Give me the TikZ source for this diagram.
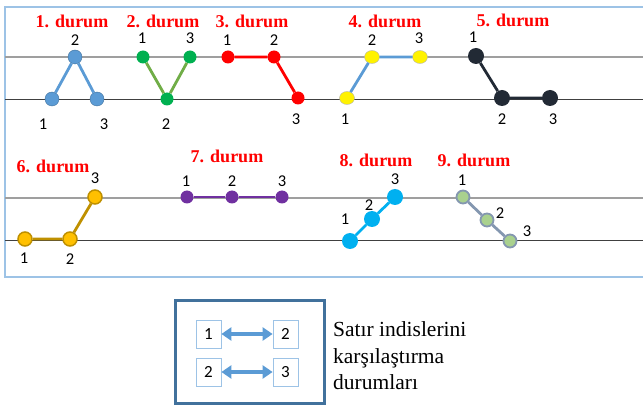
\documentclass[tikz,border=0pt]{standalone}
\usepackage{fontspec}
\setmainfont{Liberation Serif}
\newfontfamily\numfont{Carlito}
\usetikzlibrary{arrows.meta, shapes.geometric}
\definecolor{framblue}{RGB}{157,195,230}
\definecolor{legblue}{RGB}{65,113,156}
\definecolor{lineblue}{RGB}{91,155,213}
\definecolor{dgreen}{RGB}{0,176,80}
\definecolor{lgreen}{RGB}{112,173,71}
\definecolor{navy}{RGB}{34,42,53}
\definecolor{gold}{RGB}{255,192,0}
\definecolor{darkgold}{RGB}{191,144,0}
\definecolor{purp}{RGB}{112,48,160}
\definecolor{cyanb}{RGB}{0,176,240}
\definecolor{pgreen}{RGB}{169,209,142}
\definecolor{slate}{RGB}{132,151,176}

\begin{document}
\begin{tikzpicture}[x=1pt, y=-1pt,
					dot/.style={circle, inner sep=0pt, minimum size=#1},
					dot/.default=13pt,
					num/.style={inner sep=0pt, font=\numfont\fontsize{16.5}{16.5}\selectfont},
					title/.style={inner sep=0pt, text=red, font=\bfseries\fontsize{18}{18}\selectfont},
					seg/.style={line width=2.8pt},
					ibox/.style={draw=framblue, line width=0.8pt, minimum width=25pt, minimum height=28pt, inner sep=0pt, font=\numfont\fontsize{17}{17}\selectfont},
					>={Triangle[length=10pt,width=13pt]}]
					\useasboundingbox (0,0) rectangle (643,406);
					% Rahmen oben
					\draw[framblue, line width=1.2pt] (643,7) -- (5,7) -- (5,277) -- (643,277);
					% Linien
					\draw[gray!75, line width=1.2pt] (5,57) -- (643,57);
					\draw[black!75, line width=0.9pt] (5,99) -- (643,99);
					\draw[gray!75, line width=1.2pt] (5,198) -- (643,198);
					\draw[black!75, line width=0.9pt] (5,240) -- (643,240);
					% 1. durum
					\node[title] (t1) at (72,21) {1. durum};
					\node[dot=14pt, fill=lineblue, draw=legblue, thin] (a1) at (52,99) {};
					\node[dot=14pt, fill=lineblue, draw=legblue, thin] (a2) at (75,57) {};
					\node[dot=14pt, fill=lineblue, draw=legblue, thin] (a3) at (97,99) {};
					\draw[seg, lineblue] (a1) -- (a2) -- (a3);
					\node[num] (a1l) at (43,124) {1};
					\node[num] (a2l) at (75,40) {2};
					\node[num] (a3l) at (104,124) {3};
					% 2. durum
					\node[title] (t2) at (163,21) {2. durum};
					\node[dot=13pt, fill=dgreen] (b1) at (143,57) {};
					\node[dot=13pt, fill=dgreen] (b2) at (167,99) {};
					\node[dot=13pt, fill=dgreen] (b3) at (190,57) {};
					\draw[seg, lgreen] (b1) -- (b2) -- (b3);
					\node[num] (b1l) at (142,38) {1};
					\node[num] (b2l) at (166,124) {2};
					\node[num] (b3l) at (190,38) {3};
					% 3. durum
					\node[title] (t3) at (252,21) {3. durum};
					\node[dot=13pt, fill=red] (c1) at (228,57) {};
					\node[dot=13pt, fill=red] (c2) at (274,57) {};
					\node[dot=13pt, fill=red] (c3) at (298,98) {};
					\draw[seg, red] (c1) -- (c2) -- (c3);
					\node[num] (c1l) at (227,40) {1};
					\node[num] (c2l) at (274,40) {2};
					\node[num] (c3l) at (296,119) {3};
					% 4. durum
					\node[title] (t4) at (385,21) {4. durum};
					\node[ellipse, inner sep=0pt, minimum width=15pt, minimum height=13pt, fill=yellow, draw=gray!60, thin] (d1) at (347,98) {};
					\node[ellipse, inner sep=0pt, minimum width=15pt, minimum height=13pt, fill=yellow, draw=gray!60, thin] (d2) at (372,57) {};
					\node[ellipse, inner sep=0pt, minimum width=15pt, minimum height=13pt, fill=yellow, draw=gray!60, thin] (d3) at (420,57) {};
					\draw[seg, lineblue] (d1) -- (d2) -- (d3);
					\node[num] (d1l) at (345,119) {1};
					\node[num] (d2l) at (372,40) {2};
					\node[num] (d3l) at (419,38) {3};
					% 5. durum
					\node[title] (t5) at (513,20) {5. durum};
					\node[dot=16pt, fill=navy] (e1) at (476,56) {};
					\node[dot=16pt, fill=navy] (e2) at (502,98) {};
					\node[dot=16pt, fill=navy] (e3) at (550,98) {};
					\draw[seg, navy] (e1) -- (e2) -- (e3);
					\node[num] (e1l) at (473,37) {1};
					\node[num] (e2l) at (502,119) {2};
					\node[num] (e3l) at (553,119) {3};
					% 6. durum
					\node[title] (t6) at (53,166) {6. durum};
					\node[dot=14pt, fill=gold, draw=darkgold, line width=1.5pt] (f1) at (25,239) {};
					\node[dot=14pt, fill=gold, draw=darkgold, line width=1.5pt] (f2) at (70,239) {};
					\node[dot=14pt, fill=gold, draw=darkgold, line width=1.5pt] (f3) at (95,197) {};
					\draw[seg, darkgold] (f1) -- (f2) -- (f3);
					\node[num] (f1l) at (24,258) {1};
					\node[num] (f2l) at (70,259) {2};
					\node[num] (f3l) at (95,178) {3};
					% 7. durum
					\node[title] (t7) at (227,156) {7. durum};
					\node[dot=13pt, fill=purp] (g1) at (187,197) {};
					\node[dot=13pt, fill=purp] (g2) at (232,197) {};
					\node[dot=13pt, fill=purp] (g3) at (282,197) {};
					\draw[seg, purp] (g1) -- (g2) -- (g3);
					\node[num] (g1l) at (186,181) {1};
					\node[num] (g2l) at (232,181) {2};
					\node[num] (g3l) at (282,181) {3};
					% 8. durum
					\node[title] (t8) at (376,160) {8. durum};
					\node[dot=16pt, fill=cyanb] (h1) at (350,241) {};
					\node[dot=16pt, fill=cyanb] (h2) at (372,219) {};
					\node[dot=16pt, fill=cyanb] (h3) at (395,197) {};
					\draw[seg, cyanb] (h1) -- (h2) -- (h3);
					\node[num] (h1l) at (345,219) {1};
					\node[num] (h2l) at (369,205) {2};
					\node[num] (h3l) at (395,179) {3};
					% 9. durum
					\node[title] (t9) at (474,160) {9. durum};
					\node[dot=13pt, fill=pgreen, draw=slate, line width=1.8pt] (i1) at (463,197) {};
					\node[dot=13pt, fill=pgreen, draw=slate, line width=1.8pt] (i2) at (487,220) {};
					\node[dot=13pt, fill=pgreen, draw=slate, line width=1.8pt] (i3) at (510,241) {};
					\draw[seg, slate] (i1) -- (i2) -- (i3);
					\node[num] (i1l) at (462,180) {1};
					\node[num] (i2l) at (500,213) {2};
					\node[num] (i3l) at (527,231) {3};
					% Legende
					\draw[legblue, line width=3pt] (175,301) rectangle (324,403);
					\node[ibox] (k1) at (208.5,334) {1};
					\node[ibox] (k2) at (285.5,334) {2};
					\node[ibox] (k3) at (208.5,372) {2};
					\node[ibox] (k4) at (285.5,372) {3};
					\draw[<->, lineblue, line width=3.5pt] (k1) -- (k2);
					\draw[<->, lineblue, line width=3.5pt] (k3) -- (k4);
					\node[anchor=west, align=left, inner sep=0pt, font=\fontsize{21.5}{26.5}\selectfont] (txt) at (333,356) {Satır indislerini\\karşılaştırma\\durumları};
				\end{tikzpicture}
\end{document}
